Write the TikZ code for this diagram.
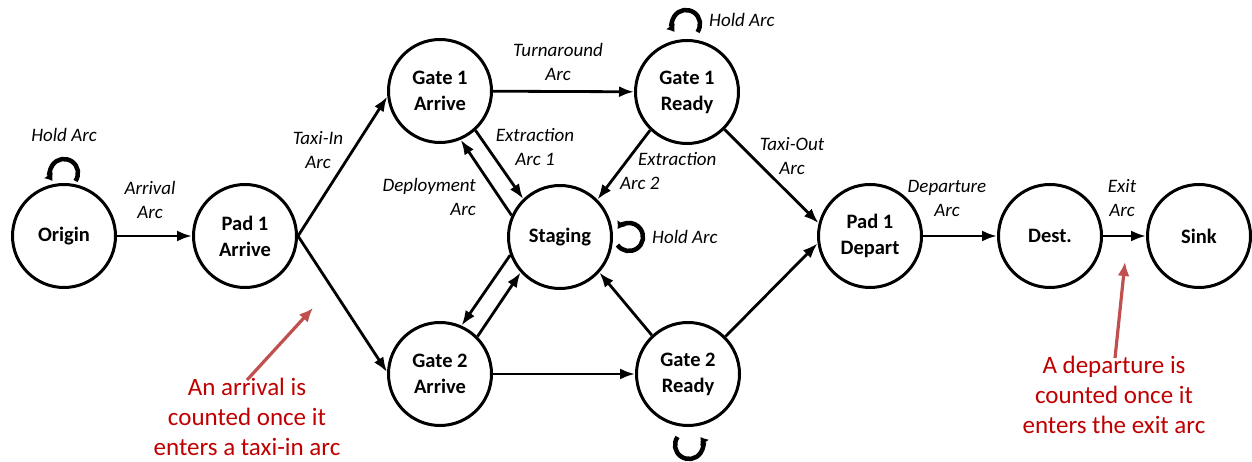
\documentclass[tikz,border=0pt]{standalone}
\usepackage{fontspec}
\setmainfont{Carlito}
\usetikzlibrary{arrows.meta}
\definecolor{annot}{RGB}{192,0,0}
\definecolor{annotarrow}{RGB}{192,80,77}
\begin{document}
\begin{tikzpicture}[x=1pt,y=1pt,
  state/.style={circle,draw,line width=3pt,minimum size=103pt,inner sep=0pt,align=center,font=\fontsize{20.5}{26}\selectfont\bfseries},
  flow/.style={line width=2.8pt,-{Latex[length=15pt,width=11pt]}},
  holdloop/.style={line width=4.5pt,-{Latex[length=7pt,width=11pt]}},
  lbl/.style={align=center,font=\fontsize{19}{24}\selectfont\itshape,inner sep=0pt},
  note/.style={align=center,text=annot,font=\fontsize{25}{30}\selectfont,inner sep=0pt},
  notearrow/.style={annotarrow,line width=3.2pt,-{Latex[length=14pt,width=12pt]}}]
\useasboundingbox (0,0) rectangle (1252,462);
% states
\node[state] (origin) at (64,226) {Origin};
\node[state] (pad1a) at (245,226) {Pad 1\\Arrive};
\node[state] (g1a) at (440,371) {Gate 1\\Arrive};
\node[state] (g1r) at (687,370) {Gate 1\\Ready};
\node[state] (stg) at (560,225) {Staging};
\node[state] (g2a) at (440,88) {Gate 2\\Arrive};
\node[state] (g2r) at (688,88) {Gate 2\\Ready};
\node[state] (pad1d) at (870,226) {Pad 1\\Depart};
\node[state] (dest) at (1050,226) {Dest.};
\node[state] (sink) at (1199,226) {Sink};
% arcs
\draw[flow] (origin) -- (pad1a);
\draw[flow] (pad1a.east) -- (g1a.186);
\draw[flow] (pad1a.east) -- (g2a.178);
\draw[flow] (g1a) -- (g1r);
\draw[flow] (g2a) -- (g2r);
\draw[flow] (g1a.-48) -- (stg.134);
\draw[flow] (stg.156) -- (g1a.-67);
\draw[flow] (g1r.226) -- (stg.45);
\draw[flow] (stg.200) -- (g2a.66);
\draw[flow] (g2a.45) -- (stg.222);
\draw[flow] (g2r.133) -- (stg.318);
\draw[flow] (g1r.-45) -- (pad1d.166);
\draw[flow] (g2r.45) -- (pad1d.188);
\draw[flow] (pad1d) -- (dest);
\draw[flow] (dest) -- (sink);
% hold loops
\coordinate (hoO) at (64,289);
\coordinate (hoG) at (686,438);
\coordinate (hoS) at (629,225);
\coordinate (hoR) at (689,17);
\draw[holdloop] ([shift={(-35:14)}]hoO) arc[start angle=-35,end angle=215,radius=14];
\draw[holdloop] ([shift={(-35:14)}]hoG) arc[start angle=-35,end angle=215,radius=14];
\draw[holdloop] ([shift={(-145:14)}]hoS) arc[start angle=-145,end angle=145,radius=14];
\draw[holdloop] ([shift={(145:14)}]hoR) arc[start angle=145,end angle=395,radius=14];
% labels
\node[lbl] (lhold1) at (64,327) {Hold Arc};
\node[lbl,anchor=west] (lhold2) at (709,442) {Hold Arc};
\node[lbl,anchor=west] (lhold3) at (652,225) {Hold Arc};
\node[lbl] (larr) at (150,262) {Arrival\\Arc};
\node[lbl] (ltaxi) at (318,312) {Taxi-In\\Arc};
\node[lbl] (lturn) at (558,400) {Turnaround\\Arc};
\node[lbl] (lext1) at (535,315) {Extraction\\Arc 1};
\node[lbl,anchor=east,align=right] (ldep) at (476,265) {Deployment\\Arc};
\node[lbl,anchor=west,align=left] (lext2) at (620,291) {\hspace*{18pt}Extraction\\Arc 2};
\node[lbl] (ltout) at (792,306) {Taxi-Out\\Arc};
\node[lbl] (ldepart) at (947,264) {Departure\\Arc};
\node[lbl] (lexit) at (1122,264) {Exit\\Arc};
% annotations
\node[note] (n1) at (247,45) {An arrival is\\counted once it\\enters a taxi-in arc};
\node[note] (n2) at (1114,67) {A departure is\\counted once it\\enters the exit arc};
\coordinate (t1) at (313,154);
\coordinate (t2) at (1125,200);
\draw[notearrow] (n1.north) ++(0,-2) -- (t1);
\draw[notearrow] (n2.north) ++(1,-2) -- (t2);
\end{tikzpicture}
\end{document}
